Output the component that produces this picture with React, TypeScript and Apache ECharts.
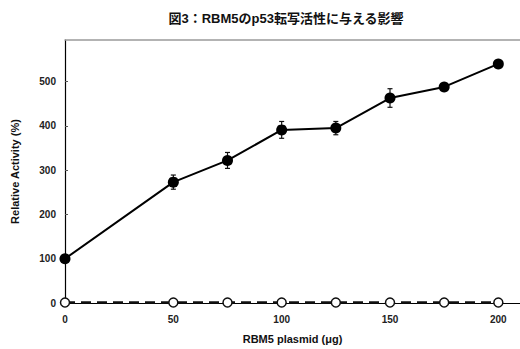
import React, { useEffect, useRef } from "react";
import * as echarts from "echarts";

const doses = [0, 50, 75, 100, 125, 150, 175, 200];
const rbm5Activity = [100, 273, 322, 391, 395, 463, 488, 540];
const rbm5Error = [0, 16, 18, 19, 15, 21, 0, 0];
const controlActivity = [1, 1, 1, 1, 1, 1, 1, 1];
const xTicks = [0, 50, 100, 150, 200];
const yTicks = [0, 100, 200, 300, 400, 500];

const FONT = "'Liberation Sans', Arial, Helvetica, sans-serif";

export default function App() {
  const ref = useRef<HTMLDivElement>(null);
  useEffect(() => {
    if (!ref.current) return;
    const chart = echarts.init(ref.current, undefined, { renderer: "svg" });
    chart.setOption({
      animation: false,
      backgroundColor: "#ffffff",
      title: {
        text: "図3：RBM5のp53転写活性に与える影響",
        left: 281,
        top: 7,
        textAlign: "center",
        textStyle: {
          fontFamily: "'Liberation Sans', 'Noto Sans CJK JP', sans-serif",
          fontSize: 13,
          fontWeight: "bold",
          color: "#111",
        },
      },
      grid: { left: 65, top: 40, right: 0, bottom: 45 },
      xAxis: [
        {
          type: "value",
          min: 0,
          max: 210,
          interval: 50,
          name: "RBM5 plasmid (μg)",
          nameLocation: "middle",
          nameGap: 30,
          nameTextStyle: { fontFamily: FONT, fontSize: 11, fontWeight: "bold", color: "#111" },
          axisLine: { show: true, onZero: false, lineStyle: { color: "#000", width: 1.2 } },
          axisTick: { show: false },
          splitLine: { show: false },
          axisLabel: {
            customValues: xTicks,
            fontFamily: FONT,
            fontSize: 10,
            fontWeight: "bold",
            color: "#222",
            margin: 11,
          },
        },
        {
          type: "value",
          position: "top",
          min: 0,
          max: 210,
          axisLine: { show: true, onZero: false, lineStyle: { color: "#9a9a9a", width: 1.5 } },
          axisTick: { show: false },
          axisLabel: { show: false },
          splitLine: { show: false },
        },
      ],
      yAxis: {
        type: "value",
        min: 0,
        max: 594,
        name: "Relative Activity (%)",
        nameLocation: "middle",
        nameGap: 45,
        nameTextStyle: { fontFamily: FONT, fontSize: 11, fontWeight: "bold", color: "#111" },
        axisLine: { show: true, onZero: false, lineStyle: { color: "#000", width: 1.2 } },
        axisTick: { show: true, inside: true, length: 3, customValues: yTicks, lineStyle: { color: "#555" } },
        splitLine: { show: false },
        axisLabel: {
          customValues: yTicks,
          fontFamily: FONT,
          fontSize: 10,
          fontWeight: "bold",
          color: "#222",
          margin: 9,
        },
      },
      series: [
        {
          type: "line",
          data: doses.map((d, i) => [d, controlActivity[i]]),
          symbol: "circle",
          symbolSize: 9,
          itemStyle: { color: "#fff", borderColor: "#111", borderWidth: 1.5 },
          lineStyle: { color: "#111", width: 2.5, type: [10, 6] },
          z: 3,
        },
        {
          type: "custom",
          data: doses.map((d, i) => [d, rbm5Activity[i], rbm5Error[i]]),
          renderItem: (params: any, api: any) => {
            const x = api.value(0);
            const y = api.value(1);
            const e = api.value(2);
            if (!e) return null;
            const top = api.coord([x, y + e]);
            const bot = api.coord([x, y - e]);
            const cap = 2.5;
            const style = { stroke: "#111", lineWidth: 1.2 };
            return {
              type: "group",
              children: [
                { type: "line", shape: { x1: top[0], y1: top[1], x2: bot[0], y2: bot[1] }, style },
                { type: "line", shape: { x1: top[0] - cap, y1: top[1], x2: top[0] + cap, y2: top[1] }, style },
                { type: "line", shape: { x1: bot[0] - cap, y1: bot[1], x2: bot[0] + cap, y2: bot[1] }, style },
              ],
            };
          },
          z: 4,
        },
        {
          type: "line",
          data: doses.map((d, i) => [d, rbm5Activity[i]]),
          symbol: "circle",
          symbolSize: 11,
          itemStyle: { color: "#000", borderColor: "#000", borderWidth: 0 },
          lineStyle: { color: "#000", width: 2 },
          z: 5,
        },
      ],
    });
    return () => chart.dispose();
  }, []);
  return <div ref={ref} style={{ width: 520, height: 349, position: "absolute", left: 0, top: 0 }} />;
}
